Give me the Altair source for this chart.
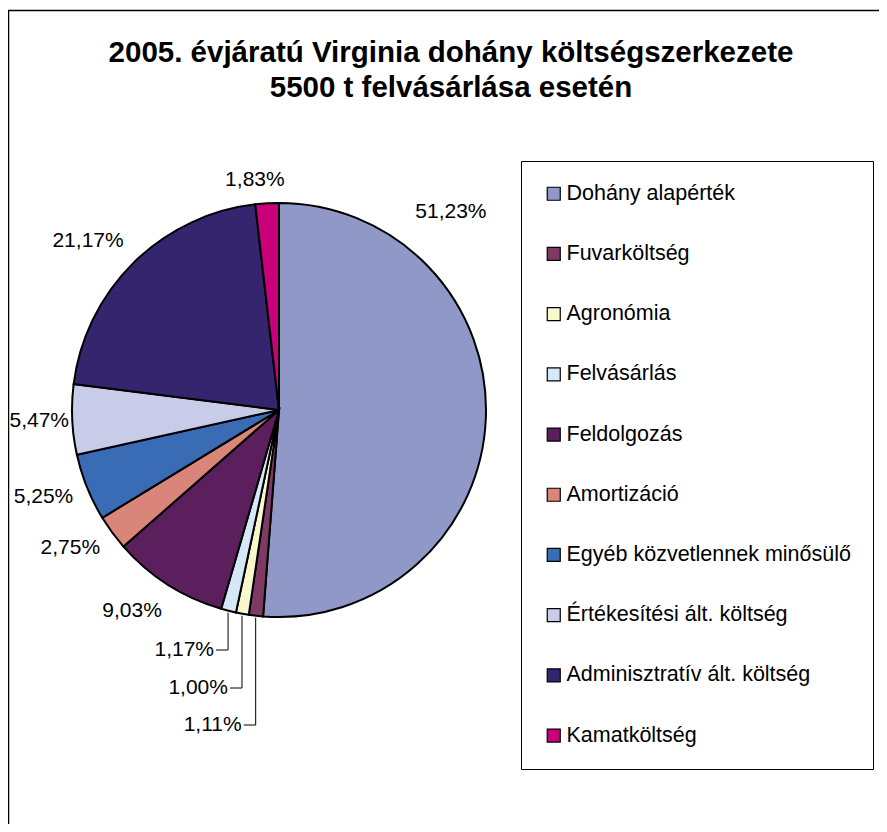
import altair as alt
import pandas as pd

# ---- data ----
categories = [
    "Dohány alapérték",
    "Fuvarköltség",
    "Agronómia",
    "Felvásárlás",
    "Feldolgozás",
    "Amortizáció",
    "Egyéb közvetlennek minősülő",
    "Értékesítési ált. költség",
    "Adminisztratív ált. költség",
    "Kamatköltség",
]
shares = [51.23, 1.11, 1.00, 1.17, 9.03, 2.75, 5.25, 5.47, 21.17, 1.83]
colors = [
    "#9098C8", "#7F3A63", "#F9F7CC", "#D6E8F8", "#5C1F5E",
    "#D9857A", "#3A6BB5", "#C9CCE8", "#35246E", "#C8007A",
]
title_lines = ["2005. évjáratú Virginia dohány költségszerkezete", "5500 t felvásárlása esetén"]

# ---- label layout (style, not data) ----
label_shift_deg = [-51.2, 0, 0, 0, 3.7, 2.9, 1.7, 0, -3.8, -2.7]
label_dist = [262, 0, 0, 0, 249, 250, 251, 240, 255, 231]
leader_drop = [0, 315, 278, 240, 0, 0, 0, 0, 0, 0]

W, H = 871, 816
CX, CY, R = 271, 402, 207
FONT = "Liberation Sans"

df = pd.DataFrame({
    "cat": categories,
    "share": shares,
    "order": list(range(len(categories))),
    "label": [f"{v:.2f}".replace(".", ",") + "%" for v in shares],
    "shift": label_shift_deg,
    "dist": label_dist,
    "drop": leader_drop,
})

base = (
    alt.Chart(df)
    .transform_joinaggregate(total="sum(share)")
    .transform_window(cum="sum(share)", sort=[alt.SortField("order")], frame=[None, 0])
    .transform_calculate(mid="2*PI*(datum.cum - datum.share/2)/datum.total")
)

pie = alt.Chart(df).mark_arc(radius=R, stroke="black", strokeWidth=2).encode(
    theta=alt.Theta("share:Q", stack=True),
    order=alt.Order("order:Q"),
    color=alt.Color(
        "cat:N",
        scale=alt.Scale(domain=categories, range=colors),
        sort=categories,
        legend=alt.Legend(
            title=None,
            orient="none",
            legendX=513,
            legendY=153,
            symbolType="square",
            symbolSize=169,
            symbolStrokeColor="black",
            symbolStrokeWidth=1.2,
            labelFont=FONT,
            labelFontSize=21.5,
            labelColor="black",
            labelLimit=500,
            labelOffset=2,
            rowPadding=37.2,
            padding=22,
            strokeColor="black",
        ),
    ),
    x=alt.value(CX),
    y=alt.value(CY),
)

labels = (
    base.transform_filter("datum.drop == 0")
    .transform_calculate(
        a="datum.mid + datum.shift*PI/180",
    )
    .transform_calculate(
        lx=f"{CX} + datum.dist*sin(datum.a)",
        ly=f"{CY} - datum.dist*cos(datum.a)",
    )
    .mark_text(font=FONT, fontSize=21, align="center", baseline="middle", color="black")
    .encode(x=alt.X("lx:Q", scale=None), y=alt.Y("ly:Q", scale=None), text="label:N")
)

leader_base = (
    base.transform_filter("datum.drop > 0")
    .transform_calculate(
        ex=f"{CX} + {R + 2}*sin(datum.mid)",
        ey=f"{CY} - {R + 2}*cos(datum.mid)",
        ly=f"{CY} + datum.drop",
    )
    .transform_calculate(hx="datum.ex - 12", tx="datum.ex - 14")
)

leader_v = leader_base.mark_rule(color="black", strokeWidth=1).encode(
    x=alt.X("ex:Q", scale=None), y=alt.Y("ey:Q", scale=None), y2="ly:Q"
)
leader_h = leader_base.mark_rule(color="black", strokeWidth=1).encode(
    x=alt.X("hx:Q", scale=None), x2="ex:Q", y=alt.Y("ly:Q", scale=None)
)
leader_text = leader_base.mark_text(
    font=FONT, fontSize=21, align="right", baseline="middle", color="black"
).encode(x=alt.X("tx:Q", scale=None), y=alt.Y("ly:Q", scale=None), text="label:N")

frame_df = pd.DataFrame({"edge": ["frame"]})
border_left = alt.Chart(frame_df).mark_rule(color="black", strokeWidth=1.5).encode(
    x=alt.value(0.5), y=alt.value(2), y2=alt.value(H)
)
border_top = alt.Chart(frame_df).mark_rule(color="black", strokeWidth=1.5).encode(
    x=alt.value(0), x2=alt.value(W), y=alt.value(2.5)
)

title = alt.Chart(frame_df).mark_text(
    text=title_lines,
    font=FONT,
    fontSize=29.5,
    fontWeight="bold",
    lineHeight=35,
    align="center",
    baseline="alphabetic",
    color="black",
).encode(x=alt.value(443), y=alt.value(54))

chart = (
    alt.layer(border_left, border_top, title, pie, labels, leader_v, leader_h, leader_text)
    .properties(width=W, height=H, padding=0, autosize=alt.AutoSizeParams(type="none"))
    .configure_view(strokeWidth=0)
)

chart.save("out.html", embed_options={"renderer": "svg", "actions": False})
